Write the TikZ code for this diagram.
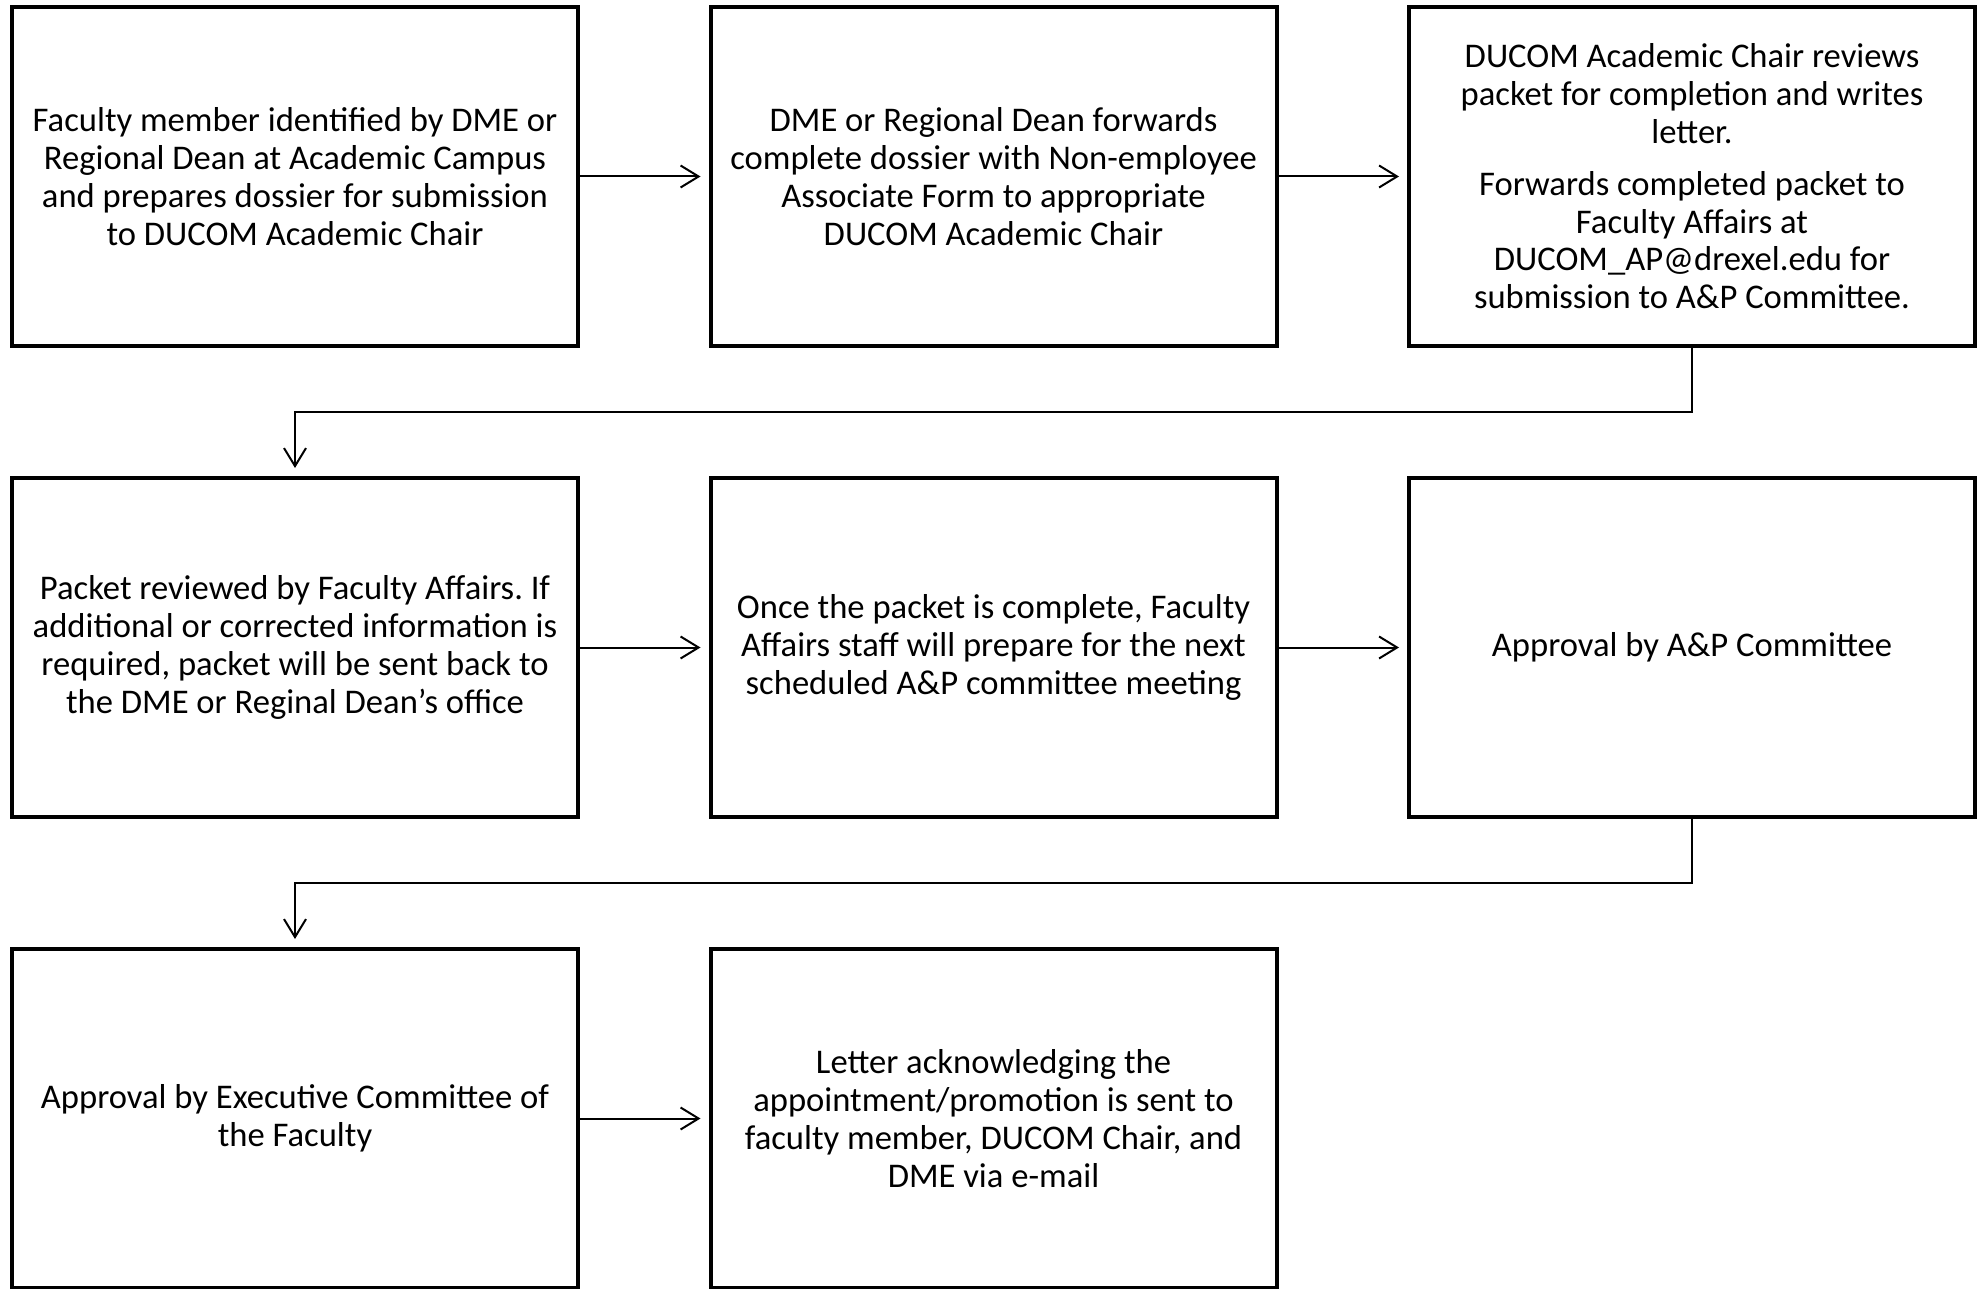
\documentclass[tikz,border=0pt]{standalone}
\usepackage{fontspec}
\setmainfont{Carlito}
\usepackage{tikz}
\usetikzlibrary{positioning,arrows.meta}
\frenchspacing
\tikzset{
  stepbox/.style = {draw=black, line width=2pt, fill=white, align=center,
                    minimum width=283pt, minimum height=169.5pt, inner sep=4pt,
                    font=\fontsize{17.3pt}{18.9pt}\selectfont},
  link/.style    = {-{Straight Barb[length=9pt,width=11pt]}, line width=1pt,
                    shorten >=4pt},
}

\begin{document}
\begin{tikzpicture}[node distance=64pt and 64.25pt]
  \useasboundingbox (0,0) rectangle (988.5pt,-644.5pt);

  % row 1
  \node[stepbox, anchor=north west] (ident) at (5pt,-2.5pt)
    {Faculty member identified by DME or\\Regional Dean at Academic Campus\\and prepares dossier for submission\\to DUCOM Academic Chair};
  \node[stepbox, right=of ident] (fwd)
    {DME or Regional Dean forwards\\complete dossier with Non-employee\\Associate Form to appropriate\\DUCOM Academic Chair};
  \node[stepbox, right=of fwd] (chair)
    {DUCOM Academic Chair reviews\\packet for completion and writes\\letter.\\[7pt]Forwards completed packet to\\Faculty Affairs at\\DUCOM\_AP@drexel.edu for\\submission to A\&P Committee.};

  % row 2
  \node[stepbox, below=of ident] (review)
    {Packet reviewed by Faculty Affairs. If\\additional or corrected information is\\required, packet will be sent back to\\the DME or Reginal Dean’s office};
  \node[stepbox, right=of review] (prep)
    {Once the packet is complete, Faculty\\Affairs staff will prepare for the next\\scheduled A\&P committee meeting};
  \node[stepbox, right=of prep] (apc)
    {Approval by A\&P Committee};

  % row 3
  \node[stepbox, below=of review] (exec)
    {Approval by Executive Committee of\\the Faculty};
  \node[stepbox, right=of exec] (letter)
    {Letter acknowledging the\\appointment/promotion is sent to\\faculty member, DUCOM Chair, and\\DME via e-mail};

  \draw[link] (ident) -- (fwd);
  \draw[link] (fwd) -- (chair);
  \draw[link] (chair.south) -- ++(0,-32pt) -| (review.north);
  \draw[link] (review) -- (prep);
  \draw[link] (prep) -- (apc);
  \draw[link] (apc.south) -- ++(0,-32pt) -| (exec.north);
  \draw[link] (exec) -- (letter);
\end{tikzpicture}
\end{document}
